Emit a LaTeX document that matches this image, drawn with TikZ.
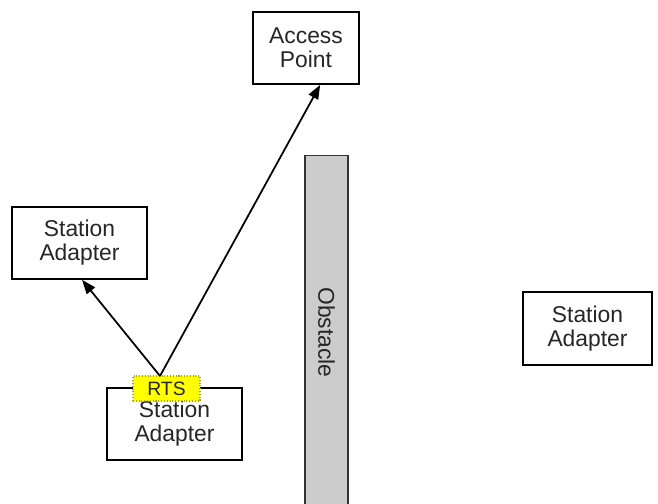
\documentclass[tikz,border=0pt]{standalone}
\usepackage{fontspec}
\setmainfont{Liberation Sans}
\usepackage{xcolor}
\usetikzlibrary{arrows.meta}

\definecolor{wallgray}{HTML}{CCCCCC}
\definecolor{rtsyellow}{HTML}{FFFF00}
\definecolor{rtsedge}{HTML}{A8A800}

\begin{document}
\begin{tikzpicture}[x=0.02cm, y=-0.02cm,
  box/.style={draw, line width=1pt, fill=white, align=center,
              font=\fontsize{13}{13.6}\selectfont, text=black!85},
  link/.style={line width=1pt, -{Triangle[length=8pt,width=6pt]}}]
\useasboundingbox (0,0) rectangle (658,503);

\node [box, minimum width=2.12cm, minimum height=1.44cm]
       (ap) at (306,48) {Access\\Point};
\node [box, minimum width=2.7cm, minimum height=1.44cm]
       (sta) at (79.5,243) {Station\\Adapter};
\node [box, minimum width=2.7cm, minimum height=1.44cm]
       (stb) at (174.5,424) {Station\\Adapter};
\node [box, minimum width=2.58cm, minimum height=1.46cm]
       (stc) at (587.5,328.5) {Station\\Adapter};

% the wall runs off the bottom edge
\node [draw=black!80, line width=0.6pt, fill=wallgray, rotate=-90,
       minimum width=7.1cm, minimum height=0.86cm,
       font=\fontsize{13}{16}\selectfont, text=black!85]
       (obstacle) at (326.5,332.5) {Obstacle};

\node [draw=rtsedge, densely dotted, line width=0.6pt, fill=rtsyellow,
       minimum width=1.34cm, minimum height=0.5cm, inner sep=0pt,
       font=\fontsize{11}{13}\selectfont, text=black!85]
       (rts) at (166.5,388.5) {RTS};

\coordinate (tx) at (160,376);
\draw [link] (tx) -- (ap.-69);
\draw [link] (tx) -- (sta.-86);
\end{tikzpicture}
\end{document}
